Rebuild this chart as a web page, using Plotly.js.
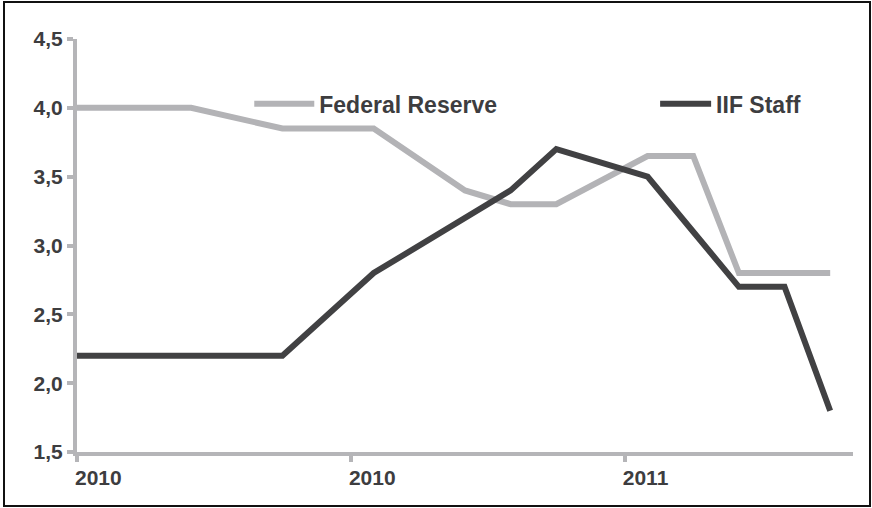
<!DOCTYPE html>
<html>
<head>
<meta charset="utf-8">
<script src="https://cdn.plot.ly/plotly-3.0.1.min.js"></script>
<style>
  html, body { margin: 0; padding: 0; background: #fff; }
  #wrap { position: relative; width: 872px; height: 508px; }
  #chart { position: absolute; left: 0; top: 0; width: 872px; height: 508px; }
  #frame { position: absolute; left: 3px; top: 1px; width: 864px; height: 502px;
           border: 2px solid #111; pointer-events: none; }
</style>
</head>
<body>
<div id="wrap">
  <div id="chart"></div>
  <div id="frame"></div>
</div>
<script>
// Period positions (quarter index) and values
const fedX    = [0, 2.5, 4.5, 6.5, 8.5, 9.5, 10.5, 12.5, 13.5, 14.5, 16.5];
const fedY    = [4.0, 4.0, 3.85, 3.85, 3.4, 3.3, 3.3, 3.65, 3.65, 2.8, 2.8];
const iifX    = [0, 4.5, 6.5, 8.5, 9.5, 10.5, 12.5, 13.5, 14.5, 15.5, 16.5];
const iifY    = [2.2, 2.2, 2.8, 3.2, 3.4, 3.7, 3.5, 3.1, 2.7, 2.7, 1.8];
const xTickVals  = [0, 6, 12];
const xTickTexts = ['2010', '2010', '2011'];
const yTickVals  = [1.5, 2.0, 2.5, 3.0, 3.5, 4.0, 4.5];
const yTickTexts = ['1,5', '2,0', '2,5', '3,0', '3,5', '4,0', '4,5'];
const seriesNames = ['Federal Reserve', 'IIF Staff'];

const fedColor = '#b3b3b6';
const iifColor = '#414143';
const axisColor = '#b5b5b8';
const textColor = '#3d3d3f';
const font = 'Liberation Sans, Arial, sans-serif';

const bold = s => '<b>' + s + '</b>';

const traces = [
  { x: fedX, y: fedY, name: bold(seriesNames[0]), type: 'scatter', mode: 'lines',
    line: { color: fedColor, width: 6 }, cliponaxis: false, legend: 'legend' },
  { x: iifX, y: iifY, name: bold(seriesNames[1]), type: 'scatter', mode: 'lines',
    line: { color: iifColor, width: 6 }, cliponaxis: false, legend: 'legend2' }
];

const legendFont = { family: font, size: 23, color: textColor };

const layout = {
  width: 872, height: 508,
  margin: { l: 77, r: 19, t: 39, b: 56 },
  paper_bgcolor: '#ffffff', plot_bgcolor: '#ffffff',
  font: { family: font, color: textColor },
  showlegend: true,
  legend: {
    orientation: 'h', x: 0.222, xanchor: 'left', y: 0.843, yanchor: 'middle',
    bgcolor: 'rgba(0,0,0,0)', itemwidth: 60, font: legendFont
  },
  legend2: {
    orientation: 'h', x: 0.745, xanchor: 'left', y: 0.843, yanchor: 'middle',
    bgcolor: 'rgba(0,0,0,0)', itemwidth: 51, font: legendFont
  },
  xaxis: {
    range: [0, 17], showgrid: false, zeroline: false,
    showline: true, linecolor: axisColor, linewidth: 4,
    tickmode: 'array', tickvals: xTickVals, ticktext: xTickTexts.map(bold),
    ticks: 'outside', ticklen: 6, tickwidth: 4, tickcolor: axisColor,
    ticklabelposition: 'outside right', ticklabelshift: -6, ticklabelstandoff: 4,
    tickfont: { family: font, size: 21, color: textColor }
  },
  yaxis: {
    range: [1.5, 4.5], showgrid: false, zeroline: false,
    showline: true, linecolor: axisColor, linewidth: 4,
    tickmode: 'array', tickvals: yTickVals, ticktext: yTickTexts.map(bold),
    ticks: 'outside', ticklen: 6, tickwidth: 4, tickcolor: axisColor,
    tickfont: { family: font, size: 21, color: textColor }
  }
};

Plotly.newPlot('chart', traces, layout, { displayModeBar: false, staticPlot: true });
</script>
</body>
</html>
